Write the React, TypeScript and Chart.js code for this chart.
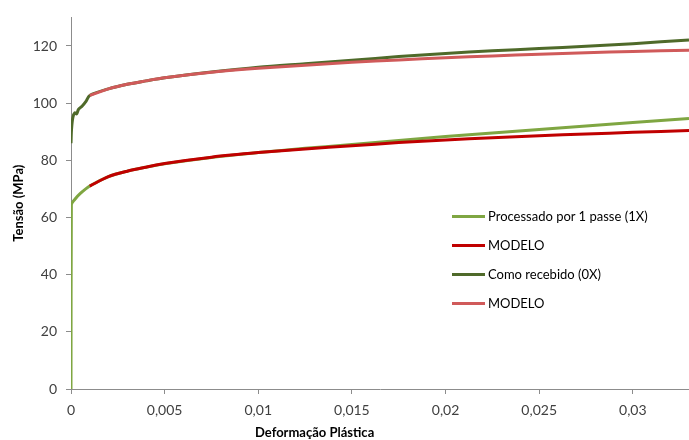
import React, { useEffect, useRef } from "react";
import { Chart, registerables } from "chart.js";

Chart.register(...registerables);

// Strain (x) values and stress (y) values for each series
const P1X_X = [0, 0.00002, 0.0002, 0.0005, 0.001, 0.002, 0.003, 0.004, 0.005, 0.0075, 0.01, 0.0125, 0.015, 0.0175, 0.02, 0.0225, 0.025, 0.0275, 0.03, 0.033];
const P1X_Y = [0, 64.5, 66.3, 68.4, 71, 74.3, 76.2, 77.6, 78.8, 81.0, 82.7, 84.2, 85.5, 86.9, 88.3, 89.6, 90.8, 92.0, 93.2, 94.6];

const MOD1_X = [0.001, 0.002, 0.003, 0.004, 0.005, 0.0075, 0.01, 0.0125, 0.015, 0.0175, 0.02, 0.0225, 0.025, 0.0275, 0.03, 0.033];
const MOD1_Y = [71, 74.3, 76.2, 77.6, 78.9, 81.1, 82.7, 84.0, 85.1, 86.2, 87.1, 87.9, 88.6, 89.2, 89.8, 90.4];

const P0X_X = [0, 0.00003, 0.0001, 0.0002, 0.0003, 0.0004, 0.0006, 0.0008, 0.001, 0.002, 0.003, 0.004, 0.005, 0.0075, 0.01, 0.0125, 0.015, 0.0175, 0.02, 0.0225, 0.025, 0.0275, 0.03, 0.033];
const P0X_Y = [86, 91, 95, 96.6, 96.2, 97.8, 99, 100.6, 102.7, 105, 106.6, 107.8, 108.9, 110.9, 112.6, 113.8, 115.0, 116.3, 117.4, 118.3, 119.1, 119.9, 120.8, 122.1];

const MOD0_X = [0.001, 0.002, 0.003, 0.004, 0.005, 0.0075, 0.01, 0.0125, 0.015, 0.0175, 0.02, 0.0225, 0.025, 0.0275, 0.03, 0.033];
const MOD0_Y = [102.7, 105, 106.6, 107.8, 108.9, 110.8, 112.2, 113.3, 114.3, 115.1, 115.9, 116.5, 117.1, 117.6, 118.1, 118.5];

const X_TICKS = [0, 0.005, 0.01, 0.015, 0.02, 0.025, 0.03];
const Y_TICKS = [0, 20, 40, 60, 80, 100, 120];

const SERIES_NAMES = ["Processado por 1 passe (1X)", "MODELO", "Como recebido (0X)", "MODELO"];
const COLORS = ["#7fa642", "#c00000", "#4f6a2a", "#d05a5a"];

const zip = (xs: number[], ys: number[]) => xs.map((x, i) => ({ x, y: ys[i] }));

export default function App() {
  const ref = useRef<HTMLCanvasElement>(null);

  useEffect(() => {
    document.body.style.margin = "0";
    if (!ref.current) return;
    const series = [zip(P1X_X, P1X_Y), zip(MOD1_X, MOD1_Y), zip(P0X_X, P0X_Y), zip(MOD0_X, MOD0_Y)];
    const chart = new Chart(ref.current, {
      type: "line",
      data: {
        datasets: series.map((d, i) => ({
          label: SERIES_NAMES[i],
          data: d,
          borderColor: COLORS[i],
          backgroundColor: COLORS[i],
          borderWidth: 3,
          pointRadius: 0,
          tension: 0.3,
          fill: false,
          order: i % 2 === 1 ? 0 : 1,
        })),
      },
      options: {
        responsive: false,
        animation: false,
        layout: { padding: { top: 15, right: 0, left: 0, bottom: 0 } },
        plugins: { legend: { display: false }, tooltip: { enabled: false } },
        scales: {
          x: {
            type: "linear",
            min: 0,
            max: 0.033,
            afterBuildTicks: (s: any) => {
              s.ticks = X_TICKS.map((v) => ({ value: v }));
            },
            afterFit: (s: any) => {
              s.height = 51;
            },
            ticks: {
              padding: 8,
              color: "#404040",
              font: { family: "Lato", size: 14 },
              callback: (v: any) => String(v).replace(".", ","),
            },
            grid: { drawOnChartArea: false, drawTicks: true, tickLength: 5, color: "#8c8c8c" },
            border: { color: "#8c8c8c", width: 1 },
          },
          y: {
            min: 0,
            max: 130,
            afterBuildTicks: (s: any) => {
              s.ticks = Y_TICKS.map((v) => ({ value: v }));
            },
            afterFit: (s: any) => {
              s.width = 71;
            },
            ticks: {
              padding: 9,
              color: "#404040",
              font: { family: "Lato", size: 14 },
            },
            title: {
              display: true,
              text: "Tensão (MPa)",
              color: "#000",
              font: { family: "Lato", size: 13, weight: "bold" },
              padding: { top: 11, bottom: 0 },
            },
            grid: { drawOnChartArea: false, drawTicks: true, tickLength: 5, color: "#8c8c8c" },
            border: { color: "#8c8c8c", width: 1 },
          },
        },
      },
    });
    return () => chart.destroy();
  }, []);

  const legendTop = [216, 245, 274, 303];

  return (
    <div style={{ position: "relative", width: 689, height: 440, background: "#fff", fontFamily: "Lato" }}>
      <canvas ref={ref} width={689} height={440} />
      {SERIES_NAMES.map((name, i) => (
        <div
          key={i}
          style={{ position: "absolute", left: 452, top: legendTop[i] - 9, height: 18, display: "flex", alignItems: "center", whiteSpace: "nowrap" }}
        >
          <div style={{ width: 33, height: 3, background: COLORS[i], marginRight: 3 }} />
          <span style={{ fontSize: 13, color: "#000" }}>{name}</span>
        </div>
      ))}
      <div
        style={{ position: "absolute", left: 255, top: 424, fontSize: 13, fontWeight: "bold", color: "#000", whiteSpace: "nowrap" }}
      >
        Deformação Plástica
      </div>
    </div>
  );
}
